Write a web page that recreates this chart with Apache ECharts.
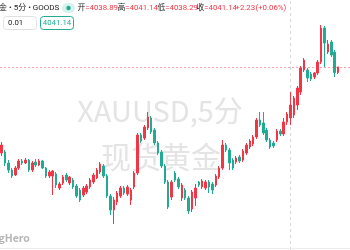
<!DOCTYPE html>
<html><head><meta charset="utf-8">
<script src="https://cdn.jsdelivr.net/npm/echarts@6/dist/echarts.min.js"></script>
<style>html,body{margin:0;padding:0;background:#fff}#c{width:350px;height:250px}</style>
</head><body><div id="c"></div>
<script>
const open = [4006.7,4007.1,4002.7,3999.9,3997.9,4000.7,4003.5,4002.7,4003.9,3999.9,4003.1,4001.9,4003.5,4000.7,3997.5,3997.5,3998.3,3992.7,3994.7,3997.9,3994.7,3995.9,3993.5,3991.9,3989.9,3991.1,3993.1,3995.1,3996.7,3999.1,4001.5,3997.5,3989.5,3983.9,3987.1,3989.5,3992.7,3990.3,3987.9,3993.1,3998.7,4013.9,4012.7,4016.7,4020.7,4015.9,4010.7,4007.1,4001.5,3995.1,3989.1,3998.7,3996.3,3988.7,3991.9,3988.7,3984.3,3988.7,3995.1,3993.1,3992.7,3995.1,3994.3,3993.9,3997.1,4000.7,4009.9,4007.9,4003.9,4003.1,4005.1,4003.9,4006.7,4009.1,4010.3,4013.1,4019.9,4018.7,4015.9,4011.9,4010.7,4011.9,4015.5,4014.3,4019.1,4020.7,4021.9,4025.9,4031.1,4039.9,4039.9,4038.3,4037.1,4038.7,4043.1,4056.7,4047.1,4051.1,4047.1,4038.89];
const close = [4009.9,4002.7,3999.9,3997.5,4000.7,4003.5,4002.7,4003.9,3999.9,4002.7,4001.9,4003.5,4000.7,3997.5,3999.1,3999.5,3993.9,3994.3,3997.1,3995.9,3997.1,3993.1,3989.5,3987.9,3992.7,3993.5,3995.9,3997.9,3999.9,4002.3,3997.5,3989.5,3983.9,3987.9,3990.7,3992.7,3990.7,3993.1,3991.9,3998.7,4013.9,4011.5,4017.1,4021.1,4015.1,4010.7,4006.7,4001.5,3995.1,3985.1,3995.1,3995.9,3993.1,3993.9,3988.7,3983.5,3991.1,3992.7,3993.9,3995.5,3995.1,3993.1,3991.9,3997.5,4000.7,4009.9,4007.9,4002.7,4000.7,4004.7,4003.5,4007.5,4009.9,4011.5,4013.1,4019.9,4017.9,4014.7,4011.9,4009.1,4009.5,4015.5,4014.3,4019.1,4022.3,4025.9,4028.7,4032.7,4040.7,4043.9,4036.7,4036.3,4038.7,4043.1,4056.7,4050.7,4050.3,4045.9,4038.9,4041.14];
const low = [4005.5,4001.5,3998.7,3996.7,3997.5,3999.9,4001.9,4002.3,3999.1,3999.1,4001.1,4001.5,4000.3,3996.7,3996.7,3989.9,3992.7,3991.9,3993.9,3995.1,3993.9,3992.3,3988.7,3987.1,3989.1,3990.3,3992.3,3994.3,3996.3,3998.3,3996.7,3988.7,3981.9,3978.3,3985.9,3988.7,3989.9,3989.5,3985.9,3992.3,3997.9,4010.7,4011.9,4015.9,4014.3,4009.9,4005.9,4000.7,3994.3,3984.3,3987.9,3995.1,3992.3,3987.5,3987.9,3982.3,3983.1,3985.5,3993.1,3992.3,3991.9,3990.7,3990.3,3993.1,3996.3,3999.9,4007.1,3999.9,3999.9,4002.3,4002.7,4003.1,4005.9,4008.3,4009.5,4012.3,4017.1,4013.9,4011.1,4008.3,4008.7,4011.1,4013.5,4013.5,4017.9,4017.9,4020.7,4023.9,4029.9,4039.1,4035.1,4035.5,4036.3,4037.9,4042.3,4041.1,4046.3,4045.1,4037.1,4038.29];
const high = [4011.1,4007.9,4003.9,4000.7,4001.5,4004.3,4004.3,4004.7,4004.3,4003.5,4004.3,4004.3,4003.9,4001.1,3999.9,3999.9,3999.1,3995.1,3997.9,3998.7,3997.5,3996.7,3994.3,3992.7,3993.5,3994.3,3996.7,3998.7,4000.7,4003.1,4002.3,3998.3,3990.3,3989.1,3991.5,3993.5,3993.5,3993.9,3992.7,3999.5,4014.7,4014.7,4017.9,4023.1,4021.5,4016.7,4011.5,4007.9,4002.3,3995.9,3995.9,3999.5,3997.1,3994.7,3992.7,3989.5,3991.9,3994.3,3995.5,3996.3,3995.9,3995.9,3995.1,3998.3,4001.5,4011.9,4010.7,4008.7,4004.7,4005.5,4005.9,4008.3,4010.7,4012.3,4013.9,4020.7,4023.1,4023.1,4016.7,4012.7,4011.5,4016.3,4016.3,4020.7,4023.1,4031.1,4029.5,4033.5,4041.5,4044.7,4040.7,4039.1,4039.1,4043.9,4057.9,4057.5,4051.9,4051.9,4047.9,4041.14];
const lastPrice = 4041.14;
const sessionBreakIndex = 85;
const categories = open.map((_, i) => String(i)).concat(['', '', '']);
const symbolText = '金 • 5分 • GOODS';
const ohlcLabels = ['开', '高', '低', '收'];
const ohlcValues = ['=4038.89', '=4041.14', '=4038.29', '=4041.14'];
const changeText = '+2.23';
const changePctText = '(+0.06%)';
const qtyText = '0.01';
const priceBoxText = '4041.14';
const watermark1 = 'XAUUSD,5分';
const watermark2 = '现货黄金';
const brandText = 'gHero';

const UP = '#f23645', DOWN = '#22ab94';
const FONT = '"Noto Sans CJK SC", "Noto Sans", sans-serif';
const HFONT = '7.8px Roboto, "Noto Sans CJK SC", sans-serif';
const chart = echarts.init(document.getElementById('c'), null, {renderer: 'canvas', width: 350, height: 250});
const candles = open.map((o, i) => [o, close[i], low[i], high[i]]);
const ohlcX = [77.5, 117.5, 157.5, 196.5];
const graphics = [
  {type: 'text', z: 0, style: {x: 160, y: 111, text: watermark1, align: 'center', verticalAlign: 'middle', font: '29px ' + FONT, fill: '#e4e4e4'}},
  {type: 'text', z: 0, style: {x: 161, y: 157, text: watermark2, align: 'center', verticalAlign: 'middle', font: '30px ' + FONT, fill: '#e4e4e4'}},
  {type: 'text', z: 10, style: {x: -1, y: 8, text: symbolText, verticalAlign: 'middle', font: '8px Roboto, "Noto Sans CJK SC", sans-serif', fill: '#222'}},
  {type: 'rect', z: 10, shape: {x: 62, y: 3, width: 13, height: 10, r: 5}, style: {fill: '#d8f1ed'}},
  {type: 'circle', z: 11, shape: {cx: 68.5, cy: 8, r: 2.2}, style: {fill: DOWN}},
  {type: 'text', z: 10, style: {x: 235.5, y: 8, text: changeText, verticalAlign: 'middle', font: HFONT, fill: UP}},
  {type: 'text', z: 10, style: {x: 255.5, y: 8, text: changePctText, verticalAlign: 'middle', font: HFONT, fill: UP}},
  {type: 'rect', z: 10, shape: {x: 3.5, y: 16.5, width: 33, height: 13, r: 3}, style: {fill: '#fff', stroke: '#e0e0e0', lineWidth: 1}},
  {type: 'text', z: 11, style: {x: 8, y: 23, text: qtyText, verticalAlign: 'middle', font: '7.8px Roboto, sans-serif', fill: '#222'}},
  {type: 'rect', z: 10, shape: {x: 40.5, y: 16.5, width: 33, height: 13, r: 3}, style: {fill: '#fff', stroke: DOWN, lineWidth: 1}},
  {type: 'text', z: 11, style: {x: 57, y: 23, text: priceBoxText, align: 'center', verticalAlign: 'middle', font: '7.8px Roboto, sans-serif', fill: DOWN}},
  {type: 'text', z: 10, style: {x: -1.5, y: 238, text: brandText, verticalAlign: 'middle', font: 'bold 10.5px ' + FONT, fill: '#b4b4b4'}},
  {type: 'rect', z: 10, shape: {x: 0, y: 248, width: 350, height: 1}, style: {fill: '#ececec'}}
];
ohlcLabels.forEach((l, i) => {
  graphics.push({type: 'text', z: 10, style: {x: ohlcX[i], y: 8, verticalAlign: 'middle',
    text: '{l|' + l + '}{v|' + ohlcValues[i] + '}',
    rich: {l: {font: HFONT, fill: '#222', verticalAlign: 'middle'}, v: {font: HFONT, fill: UP, verticalAlign: 'middle'}}}});
});
chart.setOption({
  animation: false,
  backgroundColor: '#fff',
  grid: {left: 0, right: 0, top: 0, bottom: 0},
  xAxis: {type: 'category', data: categories, show: false, boundaryGap: true},
  yAxis: {type: 'value', min: 3967.9, max: 4067.9, show: false, splitLine: {show: false}},
  graphic: graphics,
  series: [{
    type: 'candlestick', z: 5, data: candles, barWidth: 2,
    itemStyle: {color: UP, color0: DOWN, borderColor: UP, borderColor0: DOWN, borderWidth: 1},
    markLine: {
      silent: true, symbol: 'none', label: {show: false}, animation: false,
      data: [
        {yAxis: lastPrice, lineStyle: {color: '#f7a3ab', type: [2, 2], width: 1}},
        {xAxis: sessionBreakIndex, lineStyle: {color: '#d8d8d8', type: [3, 3], width: 1}}
      ]
    }
  }]
});
</script></body></html>
